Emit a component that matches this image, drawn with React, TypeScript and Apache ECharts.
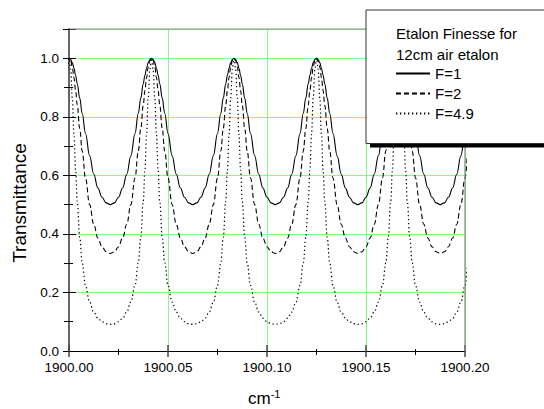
import React, { useEffect, useRef } from 'react';
import * as echarts from 'echarts';

// Axis ranges and ticks
const xMin = 1900.0;
const xMax = 1900.2;
const xInterval = 0.05;
const yMin = 0;
const yMax = 1.1;
const yInterval = 0.2;

// Transmission peak positions (cm^-1)
const peakPositions = [1900.0, 1900.04167, 1900.08333, 1900.125, 1900.16667, 1900.20833];
const freeSpectralRange = 0.041667;

// Offsets from a peak, as a fraction of the free spectral range
const phaseOffsets = [0, 0.02, 0.04, 0.06, 0.08, 0.1, 0.13, 0.16, 0.2, 0.25, 0.3, 0.35, 0.4, 0.45, 0.5];
// Transmittance read at those offsets, one list per finesse
const transF1 = [1.0, 0.996, 0.985, 0.966, 0.942, 0.913, 0.864, 0.812, 0.743, 0.667, 0.604, 0.557, 0.525, 0.506, 0.5];
const transF2 = [1.0, 0.992, 0.97, 0.934, 0.89, 0.84, 0.76, 0.683, 0.591, 0.5, 0.433, 0.386, 0.356, 0.339, 0.333];
const transF49 = [1.0, 0.962, 0.864, 0.74, 0.618, 0.512, 0.388, 0.301, 0.224, 0.167, 0.133, 0.112, 0.1, 0.093, 0.091];

const seriesNames = ['F=1', 'F=2', 'F=4.9'];
const legendTitle = 'Etalon Finesse for\n12cm air etalon';

const FONT = '"Liberation Sans", Arial, sans-serif';
const GRID_GREEN = '#86f986';

function buildSeries(profile: number[]): [number, number][] {
  const pts: [number, number][] = [];
  for (const p of peakPositions) {
    for (let i = phaseOffsets.length - 1; i >= 1; i--) {
      pts.push([p - phaseOffsets[i] * freeSpectralRange, profile[i]]);
    }
    pts.push([p, profile[0]]);
    for (let i = 1; i < phaseOffsets.length - 1; i++) {
      pts.push([p + phaseOffsets[i] * freeSpectralRange, profile[i]]);
    }
  }
  return pts
    .filter(([x]) => x >= xMin - 0.012 && x <= xMax + 0.012)
    .sort((a, b) => a[0] - b[0]);
}

const GRID = { left: 69, top: 29, right: 79, bottom: 58 };
const W = 544;
const H = 409;

export default function App() {
  const ref = useRef<HTMLDivElement>(null);

  useEffect(() => {
    if (!ref.current) return;
    const chart = echarts.init(ref.current, undefined, { renderer: 'svg' });

    const plotRight = W - GRID.right;
    const plotBottom = H - GRID.bottom;

    const baseX = { type: 'value' as const, min: xMin, max: xMax, interval: xInterval, gridIndex: 0 };
    const baseY = { type: 'value' as const, min: yMin, max: yMax, gridIndex: 0 };

    const option: any = {
      animation: false,
      backgroundColor: '#fff',
      grid: { ...GRID, containLabel: false },
      xAxis: [
        {
          ...baseX,
          position: 'bottom',
          axisLine: { show: true, lineStyle: { color: '#000', width: 1 } },
          axisTick: { show: true, length: 6, lineStyle: { color: '#444', width: 1.5 } },
          minorTick: { show: true, splitNumber: 2, length: 4, lineStyle: { color: '#000', width: 1 } },
          axisLabel: {
            show: true,
            margin: 9,
            fontSize: 13.5,
            color: '#000',
            fontFamily: FONT,
            formatter: (v: number) => v.toFixed(2),
          },
          splitLine: { show: true, lineStyle: { color: GRID_GREEN, width: 1 } },
        },
        {
          ...baseX,
          position: 'bottom',
          axisLine: { show: false },
          axisTick: { show: true, inside: true, length: 6, lineStyle: { color: '#444', width: 1.5 } },
          minorTick: { show: true, splitNumber: 2, length: 2, lineStyle: { color: '#000', width: 1 } },
          axisLabel: { show: false },
          splitLine: { show: false },
        },
      ],
      yAxis: [
        {
          ...baseY,
          interval: yInterval,
          position: 'left',
          axisLine: { show: true, lineStyle: { color: '#666', width: 2 } },
          axisTick: { show: true, length: 6, lineStyle: { color: '#000', width: 1 } },
          axisLabel: {
            show: true,
            margin: 10,
            fontSize: 13.5,
            color: '#000',
            fontFamily: FONT,
            formatter: (v: number) => (v > 1.05 ? '' : v.toFixed(1)),
          },
          splitLine: { show: true, lineStyle: { color: GRID_GREEN, width: 1 } },
        },
        {
          ...baseY,
          interval: yInterval,
          position: 'left',
          axisLine: { show: false },
          axisTick: { show: true, inside: true, length: 7, lineStyle: { color: '#000', width: 1 } },
          axisLabel: { show: false },
          splitLine: { show: false },
        },
        {
          ...baseY,
          interval: 0.1,
          position: 'left',
          axisLine: { show: false },
          axisTick: { show: true, length: 5, lineStyle: { color: '#000', width: 1 } },
          axisLabel: { show: false },
          splitLine: { show: false },
        },
        {
          ...baseY,
          interval: 0.1,
          position: 'left',
          axisLine: { show: false },
          axisTick: { show: true, inside: true, length: 4, lineStyle: { color: '#000', width: 1 } },
          axisLabel: { show: false },
          splitLine: { show: false },
        },
      ],
      legend: {
        show: true,
        orient: 'vertical',
        left: 395,
        top: 66,
        padding: 0,
        itemWidth: 34,
        itemHeight: 14,
        itemGap: 5,
        z: 20,
        selectedMode: false,
        itemStyle: { opacity: 0 },
        textStyle: { fontSize: 15, color: '#000', fontFamily: FONT, lineHeight: 14 },
        data: seriesNames,
      },
      series: [
        {
          name: seriesNames[0],
          type: 'line',
          data: buildSeries(transF1),
          showSymbol: false,
          symbol: 'none',
          smooth: 0.4,
          smoothMonotone: 'x',
          lineStyle: { color: '#000', width: 1.1, type: 'solid' },
          itemStyle: { color: '#000' },
          z: 3,
        },
        {
          name: seriesNames[1],
          type: 'line',
          data: buildSeries(transF2),
          showSymbol: false,
          symbol: 'none',
          smooth: 0.4,
          smoothMonotone: 'x',
          lineStyle: { color: '#000', width: 1.1, type: [5, 3] },
          itemStyle: { color: '#000' },
          z: 3,
        },
        {
          name: seriesNames[2],
          type: 'line',
          data: buildSeries(transF49),
          showSymbol: false,
          symbol: 'none',
          smooth: 0.4,
          smoothMonotone: 'x',
          lineStyle: { color: '#000', width: 1.2, type: [1.3, 2.7] },
          itemStyle: { color: '#000' },
          z: 3,
        },
      ],
      graphic: [
        // top and right frame of the plot
        {
          type: 'line',
          z: 5,
          shape: { x1: GRID.left, y1: GRID.top, x2: plotRight, y2: GRID.top },
          style: { stroke: '#888', lineWidth: 1 },
          silent: true,
        },
        {
          type: 'line',
          z: 5,
          shape: { x1: plotRight, y1: GRID.top, x2: plotRight, y2: plotBottom },
          style: { stroke: '#888', lineWidth: 1.2 },
          silent: true,
        },
        // legend box shadow and box
        {
          type: 'rect',
          z: 10,
          shape: { x: 370, y: 14, width: 200, height: 133.5 },
          style: { fill: '#000' },
          silent: true,
        },
        {
          type: 'rect',
          z: 11,
          shape: { x: 366, y: 10, width: 200, height: 133.5 },
          style: { fill: '#fff', stroke: '#333', lineWidth: 1 },
          silent: true,
        },
        {
          type: 'text',
          z: 12,
          x: 396,
          y: 23,
          style: {
            text: legendTitle,
            fontSize: 15,
            lineHeight: 21,
            fontFamily: FONT,
            fill: '#000',
            align: 'left',
            verticalAlign: 'top',
          },
          silent: true,
        },
        // axis titles
        {
          type: 'text',
          z: 12,
          x: 19,
          y: 203,
          rotation: Math.PI / 2,
          style: {
            text: 'Transmittance',
            fontSize: 19,
            fontFamily: FONT,
            fill: '#000',
            align: 'center',
            verticalAlign: 'middle',
          },
          silent: true,
        },
        {
          type: 'text',
          z: 12,
          x: 248,
          y: 398,
          style: {
            text: '{a|cm}{b|-1}',
            fontFamily: FONT,
            fill: '#000',
            align: 'left',
            verticalAlign: 'middle',
            rich: {
              a: { fontSize: 17, fontFamily: FONT, fill: '#000', lineHeight: 20 },
              b: { fontSize: 11, fontFamily: FONT, fill: '#000', verticalAlign: 'top', lineHeight: 20, padding: [0, 0, 12, 0] },
            },
          },
          silent: true,
        },
      ],
    };

    chart.setOption(option);
    return () => {
      chart.dispose();
    };
  }, []);

  return (
    <div
      ref={ref}
      style={{ position: 'fixed', left: 0, top: 0, width: W, height: H, background: '#fff' }}
    />
  );
}
